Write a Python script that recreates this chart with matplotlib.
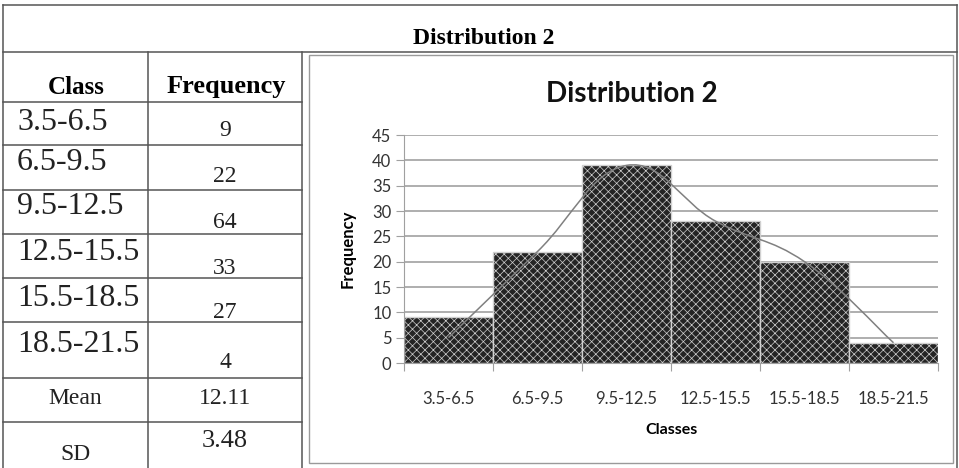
import numpy as np
import matplotlib.pyplot as plt
from matplotlib.path import Path
from matplotlib.patches import PathPatch, Rectangle

# table data
classes = ["3.5-6.5", "6.5-9.5", "9.5-12.5", "12.5-15.5", "15.5-18.5", "18.5-21.5"]
freq_table = ["9", "22", "64", "33", "27", "4"]
mean_val = "12.11"
sd_val = "3.48"

# chart data
bar_values = [9, 22, 39, 28, 20, 4]
curve_values = [5, 22, 39, 28, 20, 4]
y_ticks = [0, 5, 10, 15, 20, 25, 30, 35, 40, 45]

W, H = 959, 468
fig = plt.figure(figsize=(W / 100, H / 100), dpi=100)

# background axes in pixel units for the table
bg = fig.add_axes([0, 0, 1, 1])
bg.set_xlim(0, W)
bg.set_ylim(H, 0)
bg.axis("off")

line_kw = dict(color="#555555", lw=1.1)
serif = "Liberation Serif"
ink = "#222222"

# outer frame and table grid
bg.plot([3, 957], [5, 5], **line_kw)
bg.plot([3, 3], [5, H], **line_kw)
bg.plot([957, 957], [5, H], **line_kw)
bg.plot([3, 957], [52, 52], **line_kw)
bg.plot([148, 148], [52, H], **line_kw)
bg.plot([302, 302], [52, H], **line_kw)
row_lines = [102, 145, 190, 234, 278, 322, 378, 422]
for y in row_lines:
    bg.plot([3, 302], [y, y], **line_kw)

# chart frame
bg.add_patch(Rectangle((309, 55), 644, 408, fill=False, ec="#9a9a9a", lw=1.0))

bg.text(484, 39, "Distribution 2", ha="center", va="center",
        fontsize=17, fontweight="bold", family=serif)
bg.text(76, 87, "Class", ha="center", va="center",
        fontsize=18, fontweight="bold", family=serif)
bg.text(226, 87, "Frequency", ha="center", va="center",
        fontsize=19, fontweight="bold", family=serif)

class_y = [122, 162, 206, 252, 299, 344]
freq_y = [130, 177, 222, 268, 313, 362]
for c, f, cy, fy in zip(classes, freq_table, class_y, freq_y):
    bg.text(17, cy, c, ha="left", va="center", fontsize=23, family=serif, color=ink)
    bg.text(225, fy, f, ha="center", va="center", fontsize=17, family=serif, color=ink)

bg.text(75, 398, "Mean", ha="center", va="center", fontsize=17, family=serif, color=ink)
bg.text(225, 398, mean_val, ha="center", va="center", fontsize=17, family=serif, color=ink)
bg.text(75, 454, "SD", ha="center", va="center", fontsize=17, family=serif, color=ink)
bg.text(225, 441, sd_val, ha="center", va="center", fontsize=19, family=serif, color=ink)

# chart
sans = "Lato"
left, right, top, bottom = 404, 938, 135, 363
ax = fig.add_axes([left / W, 1 - bottom / H, (right - left) / W, (bottom - top) / H])
x = np.arange(len(bar_values))
ax.set_xlim(-0.5, len(bar_values) - 0.5)
ax.set_ylim(0, 45)
ax.set_yticks(y_ticks)
ax.yaxis.grid(True, color="#a8a8a8", lw=1.3)
ax.set_axisbelow(True)
for s in ["top", "right"]:
    ax.spines[s].set_visible(False)
ax.spines["left"].set_color("#a0a0a0")
ax.spines["bottom"].set_color("#a0a0a0")

plt.rcParams["hatch.color"] = "#515151"
plt.rcParams["hatch.linewidth"] = 0.5
ax.bar(x, bar_values, width=1.0, color="#242424", edgecolor="#d0d0d0",
       linewidth=1.0, hatch="xxxx", zorder=2)

# smoothed line through the curve values (cubic bezier segments)
k = 0.2
pts = np.column_stack([x, curve_values]).astype(float)
verts = [pts[0]]
codes = [Path.MOVETO]
n = len(pts)
for i in range(n - 1):
    p0 = pts[i - 1] if i > 0 else pts[i]
    p1, p2 = pts[i], pts[i + 1]
    p3 = pts[i + 2] if i + 2 < n else pts[i + 1]
    c1 = p1 + k * (p2 - p0)
    c2 = p2 - k * (p3 - p1)
    verts += [c1, c2, p2]
    codes += [Path.CURVE4] * 3
ax.add_patch(PathPatch(Path(verts, codes), fill=False, ec="#808080", lw=1.1, zorder=3))

ax.set_xticks(np.arange(-0.5, len(bar_values), 1.0), minor=False)
ax.set_xticklabels([])
ax.set_xticks(x, minor=True)
ax.set_xticklabels(classes, minor=True, fontsize=12, family=sans, color="#333333")
ax.tick_params(axis="x", which="major", length=6, color="#a0a0a0")
ax.tick_params(axis="x", which="minor", length=0, pad=20)
ax.tick_params(axis="y", length=6, color="#a0a0a0", labelsize=12, pad=3)
for lab in ax.get_yticklabels():
    lab.set_family(sans)
    lab.set_color("#333333")

ax.set_ylabel("Frequency", fontsize=12, fontweight="bold", family=sans, labelpad=12)
ax.set_xlabel("Classes", fontsize=11.5, fontweight="bold", family=sans, labelpad=12)

bg.text(632, 94, "Distribution 2", ha="center", va="center",
        fontsize=20, fontweight="bold", family=sans, color="#111111")

fig.savefig("out.png", dpi=100)
